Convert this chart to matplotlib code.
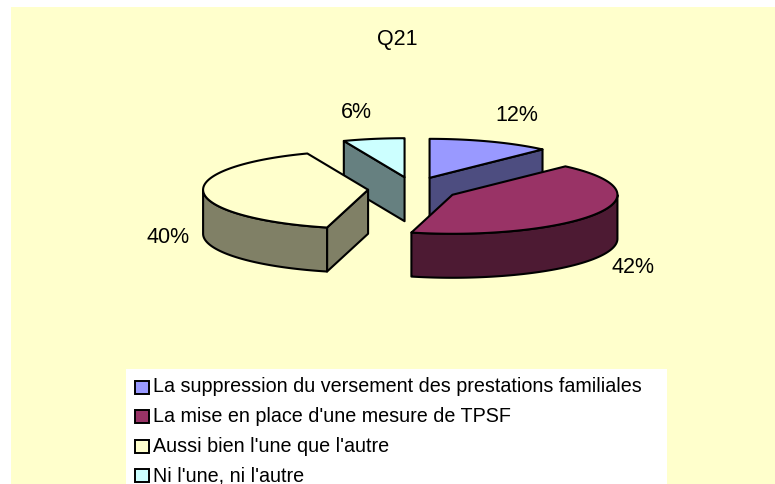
import numpy as np
import matplotlib
matplotlib.use("Agg")
import matplotlib.pyplot as plt
from matplotlib.patches import Polygon, Rectangle

# ---------------- data ----------------
title = "Q21"
categories = [
    "La suppression du versement des prestations familiales",
    "La mise en place d'une mesure de TPSF",
    "Aussi bien l'une que l'autre",
    "Ni l'une, ni l'autre",
]
values = [12, 42, 40, 6]

# ---------------- style ----------------
top_colors = ["#9999FF", "#993366", "#FFFFCC", "#CCFFFF"]
side_colors = ["#4D4D80", "#4D1A33", "#808066", "#668080"]
bg_color = "#FFFFCC"
font = "Liberation Sans"

W, H = 775, 484
cx, cy = 413, 189        # pie centre (pixels)
ra, rb = 165, 39         # ellipse semi-axes
depth = 44
ex, ey = 45, 12          # explosion offsets
label_offsets = [(27, -26), (36, 10), (-35, 1), (-17, -26)]

fig = plt.figure(figsize=(W / 100, H / 100), dpi=100)
ax = fig.add_axes([0, 0, 1, 1])
ax.set_xlim(0, W)
ax.set_ylim(H, 0)
ax.axis("off")

ax.add_patch(Rectangle((11, 7), W - 11, H - 7, facecolor=bg_color,
                       edgecolor="none", zorder=0))

ax.text(397, 39, title, ha="center", va="center", fontsize=15.5,
        family=font, zorder=10)

total = float(sum(values))
lw = 1.5
slices = []
start = 90.0
for i, v in enumerate(values):
    t1 = start
    t2 = start - v / total * 360.0
    start = t2
    m = np.radians((t1 + t2) / 2)
    px = cx + ex * np.cos(m)
    py = cy - ey * np.sin(m)
    slices.append((i, t1, t2, m, px, py))


def pt(px, py, t, dz=0.0):
    return (px + ra * np.cos(t), py - rb * np.sin(t) + dz)


z = 2
for (i, t1, t2, m, px, py) in sorted(slices, key=lambda s: s[5]):
    r1, r2 = np.radians(t1), np.radians(t2)
    walls = []
    if np.cos(r1) < -1e-6:
        a1 = pt(px, py, r1)
        walls.append([(px, py), a1, (a1[0], a1[1] + depth), (px, py + depth)])
    if np.cos(r2) > 1e-6:
        a2 = pt(px, py, r2)
        walls.append([(px, py), a2, (a2[0], a2[1] + depth), (px, py + depth)])
    ts = np.linspace(r2, r1, 400)
    front = np.sin(ts) <= 0
    if front.any():
        idx = np.where(front)[0]
        runs = np.split(idx, np.where(np.diff(idx) != 1)[0] + 1)
        for run in runs:
            tt = ts[run]
            topc = [pt(px, py, t) for t in tt]
            botc = [pt(px, py, t, depth) for t in tt[::-1]]
            walls.append(topc + botc)
    for w in walls:
        ax.add_patch(Polygon(w, closed=True, facecolor=side_colors[i],
                             edgecolor="black", lw=lw, joinstyle="round",
                             zorder=z))
    z += 1
    arc = [pt(px, py, t) for t in np.linspace(r1, r2, 300)]
    ax.add_patch(Polygon([(px, py)] + arc, closed=True,
                         facecolor=top_colors[i], edgecolor="black", lw=lw,
                         joinstyle="round", zorder=z))
    z += 1
    e = pt(px, py, m, depth if np.sin(m) < 0 else 0)
    dx, dy = label_offsets[i]
    ax.text(e[0] + dx, e[1] + dy, f"{values[i]}%", ha="center",
            va="center", fontsize=15.5, family=font, zorder=20)

# legend
ax.add_patch(Rectangle((126, 369), 667 - 126, H - 369, facecolor="white",
                       edgecolor="none", zorder=1))
for k, lab in enumerate(categories):
    yc = 387 + 29.5 * k
    ax.add_patch(Rectangle((135, yc - 6.5), 14, 13, facecolor=top_colors[k],
                           edgecolor="black", lw=1.4, zorder=5))
    ax.text(153, yc, lab, ha="left", va="center", fontsize=14.2,
            family=font, zorder=5)

fig.savefig("out.png", dpi=100)
